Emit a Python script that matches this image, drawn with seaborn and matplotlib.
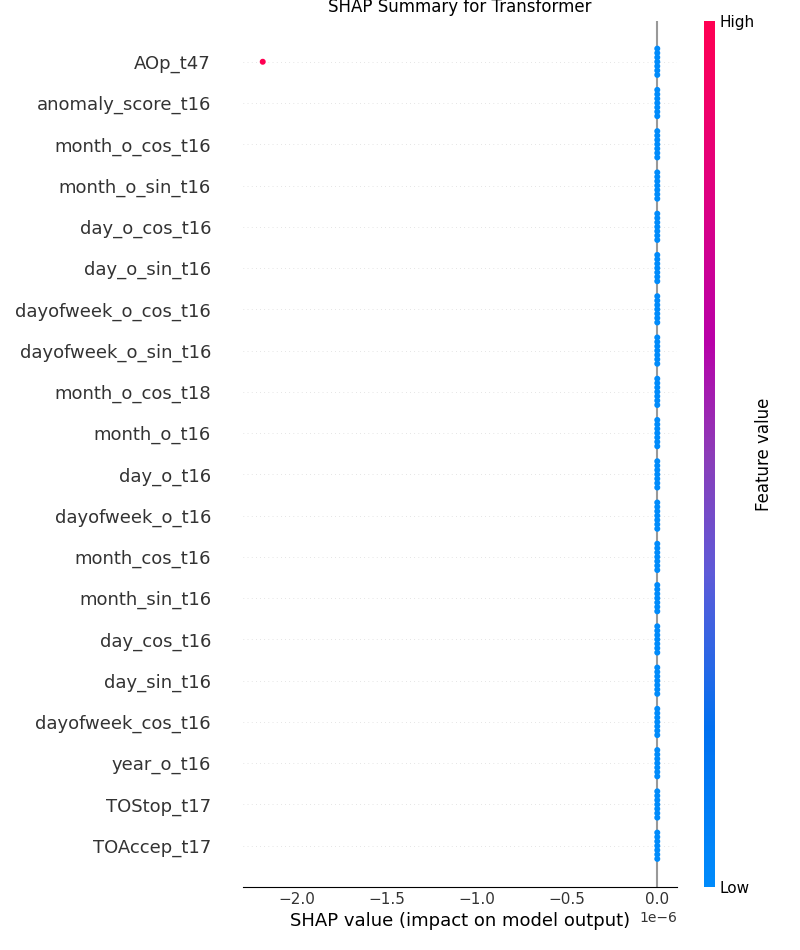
import numpy as np
import pandas as pd
import matplotlib
matplotlib.use("Agg")
import matplotlib.pyplot as plt
from matplotlib.colors import LinearSegmentedColormap
from matplotlib.cm import ScalarMappable
import seaborn as sns

# ---------------- data ----------------
features = [
    "AOp_t47", "anomaly_score_t16", "month_o_cos_t16", "month_o_sin_t16",
    "day_o_cos_t16", "day_o_sin_t16", "dayofweek_o_cos_t16", "dayofweek_o_sin_t16",
    "month_o_cos_t18", "month_o_t16", "day_o_t16", "dayofweek_o_t16",
    "month_cos_t16", "month_sin_t16", "day_cos_t16", "day_sin_t16",
    "dayofweek_cos_t16", "year_o_t16", "TOStop_t17", "TOAccep_t17",
]
# SHAP values of the low-feature-value samples (identical for every feature)
low_shap_values = [0.0, 0.0, 0.0, 0.0, 0.0, 0.0, 0.0]
# the single high-feature-value outlier
high_feature = "AOp_t47"
high_shap_value = -2.19e-6

title = "SHAP Summary for Transformer"
xlabel = "SHAP value (impact on model output)"
cbar_ticklabels = ["Low", "High"]
cbar_label = "Feature value"

low_color = "#008bfb"
high_color = "#ff0052"
cmap_colors = ["#008bfb", "#0070f0", "#5d5ad8", "#8c3cb8", "#b800a8", "#e2007c", "#ff0052"]
cmap_stops = [0.0, 0.18, 0.36, 0.5, 0.63, 0.82, 1.0]

rows = []
for f in features:
    for v in low_shap_values:
        rows.append({"feature": f, "shap": v, "level": "Low"})
rows.append({"feature": high_feature, "shap": high_shap_value, "level": "High"})
df = pd.DataFrame(rows)

# ---------------- style ----------------
sns.set_style("white", rc={
    "axes.edgecolor": "black",
    "text.color": "black",
    "axes.labelcolor": "black",
    "xtick.color": "#333333",
    "ytick.color": "#333333",
})
plt.rcParams["font.family"] = ["DejaVu Sans"]

fig = plt.figure(figsize=(8, 9.5), dpi=100)
W, H = 800, 950
ax = fig.add_axes([243 / W, (H - 887) / H, (677 - 243) / W, (887 - 20.5) / H])

# guides
for i in range(len(features)):
    ax.axhline(i, color="#cccccc", lw=0.5, dashes=(1, 5), zorder=-1)
ax.axvline(0, color="#999999", lw=1.5, zorder=-1)

sns.swarmplot(
    data=df, x="shap", y="feature", hue="level", order=features,
    hue_order=["Low", "High"], palette={"Low": low_color, "High": high_color},
    size=3.0, linewidth=0, legend=False, ax=ax, zorder=3,
)

ax.set_ylim(len(features), -1)
x_min = min(df["shap"]); x_max = max(df["shap"])
span = x_max - x_min
ax.set_xlim(x_min - 0.05 * span, x_max + 0.05 * span)

for s in ["top", "right", "left"]:
    ax.spines[s].set_visible(False)
ax.tick_params(axis="y", length=0, pad=23, labelsize=13, labelcolor="#333333")
ax.tick_params(axis="x", length=0, labelsize=11, labelcolor="#333333")
ax.xaxis.get_offset_text().set_fontsize(10)
ax.xaxis.get_offset_text().set_color("#333333")
ax.set_ylabel("")
ax.set_xlabel(xlabel, fontsize=13)
ax.set_title(title, fontsize=12)

# colorbar
cmap = LinearSegmentedColormap.from_list("shap_red_blue", list(zip(cmap_stops, cmap_colors)))
cax = fig.add_axes([704 / W, (H - 887) / H, 11 / W, (887 - 21) / H])
sm = ScalarMappable(cmap=cmap)
sm.set_array([])
cb = fig.colorbar(sm, cax=cax, ticks=[0, 1])
cb.set_ticklabels(cbar_ticklabels)
cb.ax.tick_params(labelsize=11, length=0, labelcolor="black")
cb.set_label(cbar_label, size=12, labelpad=0)
cb.outline.set_visible(False)

# let seaborn lay out the swarm once, then freeze it and thicken the dots so
# neighbouring dots merge into one dense column like SHAP's beeswarm
fig.canvas.draw()
for coll in ax.collections:
    if "draw" in coll.__dict__:
        del coll.draw
    coll.set_edgecolor("face")
    coll.set_linewidth(1.3)

fig.savefig("out.png", dpi=100)
